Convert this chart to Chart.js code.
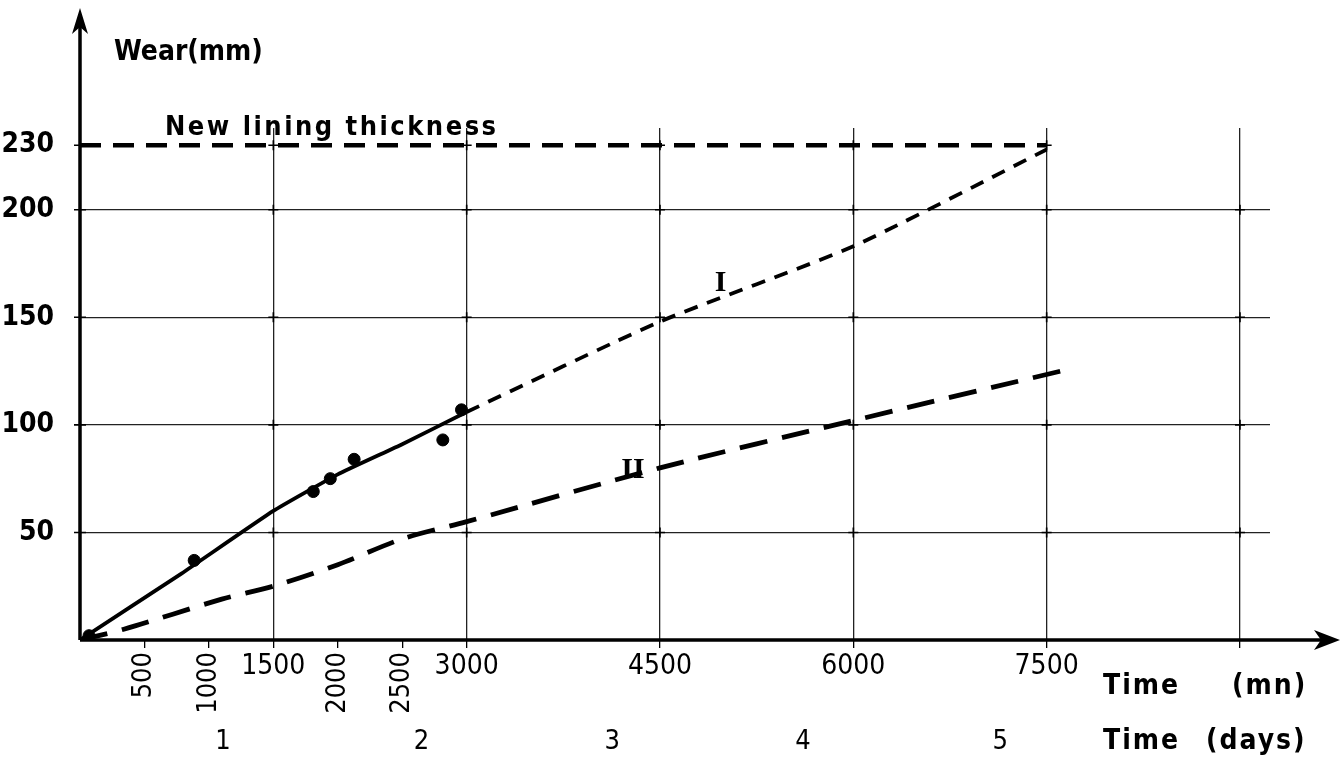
<!DOCTYPE html>
<html>
<head>
<meta charset="utf-8">
<script src="https://cdn.jsdelivr.net/npm/chart.js@4.4.0/dist/chart.umd.min.js"></script>
<style>
  html, body { margin: 0; padding: 0; background: #fff; }
  #wrap { width: 1343px; height: 760px; }
</style>
</head>
<body>
<div id="wrap"><canvas id="wear-chart"></canvas></div>
<script>
// x axis (minutes)
const xTicks = [500, 1000, 1500, 2000, 2500, 3000, 4500, 6000, 7500, 9000];
const xRotatedTicks = [500, 1000, 2000, 2500];
const xGridTicks = [1500, 3000, 4500, 6000, 7500, 9000];
// y axis (mm)
const yTicks = [50, 100, 150, 200, 230];
// second time row (days), placed under the minute scale
const dayTicks = [1110, 2650, 4130, 5610, 7140];
const dayLabels = ['1', '2', '3', '4', '5'];

// curve I, measured part
const curveIx = [0, 790, 1500, 2000, 2500, 3000];
const curveIy = [0, 31, 60, 77, 91, 106];
// curve I, extrapolated
const curveIextX = [3000, 4500, 6000, 7500];
const curveIextY = [106, 148, 183, 228];
// curve II
const curveIIx = [0, 340, 1100, 1500, 2000, 2500, 3000, 4500, 6000, 7680];
const curveIIy = [0, 5, 19, 25, 35, 47, 55, 80, 102, 126];
// measured points
const pointX = [70, 886, 1810, 1942, 2127, 2815, 2960];
const pointY = [2, 37, 69, 75, 84, 93, 107];
// new lining thickness
const liningX = [0, 7500];
const liningY = [230, 230];

const xy = (xs, ys) => xs.map((v, i) => ({ x: v, y: ys[i] }));

const condensed = "'DejaVu Sans Condensed', 'DejaVu Sans', sans-serif";

// axes arrows, extra labels and grid crosses
const decorations = {
  id: 'decorations',
  afterDraw(chart) {
    const { ctx, scales: { x, y } } = chart;
    const x0 = x.getPixelForValue(0);
    const y0 = y.getPixelForValue(0);
    ctx.save();
    ctx.strokeStyle = '#000';
    ctx.fillStyle = '#000';

    // axes
    ctx.lineWidth = 3.5;
    ctx.beginPath();
    ctx.moveTo(x0, y0);
    ctx.lineTo(1322, y0);
    ctx.moveTo(x0, y0);
    ctx.lineTo(x0, 24);
    ctx.stroke();
    ctx.beginPath();
    ctx.moveTo(1340, y0);
    ctx.lineTo(1314, y0 - 10);
    ctx.lineTo(1321, y0);
    ctx.lineTo(1314, y0 + 10);
    ctx.closePath();
    ctx.fill();
    ctx.beginPath();
    ctx.moveTo(x0, 8);
    ctx.lineTo(x0 - 8, 34);
    ctx.lineTo(x0, 27);
    ctx.lineTo(x0 + 8, 34);
    ctx.closePath();
    ctx.fill();

    // little crosses on the grid
    ctx.lineWidth = 1.6;
    ctx.beginPath();
    xGridTicks.forEach(vx => {
      const px = x.getPixelForValue(vx);
      yTicks.forEach(vy => {
        if (vy === 230 && vx > 7500) return;
        const py = y.getPixelForValue(vy);
        ctx.moveTo(px - 5, py); ctx.lineTo(px + 5, py);
        ctx.moveTo(px, py - 5); ctx.lineTo(px, py + 5);
      });
    });
    yTicks.forEach(vy => {
      const py = y.getPixelForValue(vy);
      ctx.moveTo(x0 - 6, py); ctx.lineTo(x0 + 6, py);
    });
    ctx.stroke();

    // rotated minute labels
    ctx.font = '27px ' + condensed;
    ctx.textAlign = 'right';
    ctx.textBaseline = 'middle';
    xRotatedTicks.forEach(v => {
      ctx.save();
      ctx.translate(x.getPixelForValue(v), 652);
      ctx.rotate(-Math.PI / 2);
      ctx.fillText(String(v), 0, 0);
      ctx.restore();
    });

    // day labels
    ctx.textAlign = 'center';
    ctx.font = '27px ' + condensed;
    dayTicks.forEach((v, i) => {
      ctx.fillText(dayLabels[i], x.getPixelForValue(v), 742);
    });

    // axis titles
    ctx.font = 'bold 28px ' + condensed;
    ctx.textAlign = 'left';
    ctx.fillText('Wear(mm)', 114, 53);
    ctx.letterSpacing = '2px';
    ctx.fillText('Time', 1103, 687);
    ctx.fillText('(mn)', 1232, 687);
    ctx.fillText('Time', 1103, 742);
    ctx.fillText('(days)', 1206, 742);

    // lining label
    ctx.font = 'bold 27px ' + condensed;
    ctx.letterSpacing = '2.5px';
    ctx.textBaseline = 'alphabetic';
    ctx.fillText('New lining thickness', 165, y.getPixelForValue(230) - 10);
    ctx.letterSpacing = '0px';

    // curve names
    ctx.font = 'bold 30px "Liberation Serif", serif';
    ctx.textAlign = 'center';
    ctx.textBaseline = 'middle';
    ctx.fillText('I', x.getPixelForValue(4970), y.getPixelForValue(166));
    ctx.fillText('II', x.getPixelForValue(4290), y.getPixelForValue(79));
    ctx.restore();
  }
};

const ctx = document.getElementById('wear-chart').getContext('2d');
new Chart(ctx, {
  type: 'line',
  data: {
    datasets: [
      {
        label: 'New lining thickness',
        data: xy(liningX, liningY),
        borderColor: '#000',
        borderWidth: 4.5,
        borderDash: [21, 12],
        pointRadius: 0
      },
      {
        label: 'I',
        data: xy(curveIx, curveIy),
        borderColor: '#000',
        borderWidth: 3.8,
        tension: 0.12,
        pointRadius: 0
      },
      {
        label: 'I (extrapolated)',
        data: xy(curveIextX, curveIextY),
        borderColor: '#000',
        borderWidth: 3.8,
        borderDash: [14, 10],
        tension: 0.2,
        pointRadius: 0
      },
      {
        label: 'II',
        data: xy(curveIIx, curveIIy),
        borderColor: '#000',
        borderWidth: 4.8,
        borderDash: [28, 15],
        tension: 0.3,
        pointRadius: 0
      },
      {
        label: 'Measured',
        data: xy(pointX, pointY),
        showLine: false,
        pointRadius: 6,
        pointBackgroundColor: '#000',
        pointBorderColor: '#000'
      }
    ]
  },
  options: {
    responsive: true,
    maintainAspectRatio: false,
    animation: false,
    layout: { padding: { top: 128, right: 73, left: 0, bottom: 0 } },
    plugins: { legend: { display: false }, tooltip: { enabled: false } },
    scales: {
      x: {
        type: 'linear',
        min: 0,
        max: 9233,
        afterBuildTicks: scale => { scale.ticks = xTicks.map(v => ({ value: v })); },
        afterFit: scale => { scale.height = 120; },
        border: { display: false },
        grid: {
          color: c => (xGridTicks.includes(c.tick.value) ? '#222' : 'rgba(0,0,0,0)'),
          tickColor: '#000',
          lineWidth: 1.3,
          tickLength: 8
        },
        ticks: {
          autoSkip: false,
          maxRotation: 0,
          minRotation: 0,
          padding: 2,
          color: '#000',
          font: { family: condensed, size: 28 },
          callback: v => (xRotatedTicks.includes(v) || v === 9000 ? '' : String(v))
        }
      },
      y: {
        min: 0,
        max: 238,
        afterBuildTicks: scale => { scale.ticks = yTicks.map(v => ({ value: v })); },
        afterFit: scale => { scale.width = 80; },
        border: { display: false },
        grid: {
          color: c => (c.tick.value === 230 ? 'rgba(0,0,0,0)' : '#222'),
          tickColor: 'rgba(0,0,0,0)',
          lineWidth: 1.2,
          tickLength: 6
        },
        ticks: {
          padding: 20,
          color: '#000',
          font: { family: condensed, size: 28, weight: 'bold' }
        }
      }
    }
  },
  plugins: [decorations]
});
</script>
</body>
</html>
